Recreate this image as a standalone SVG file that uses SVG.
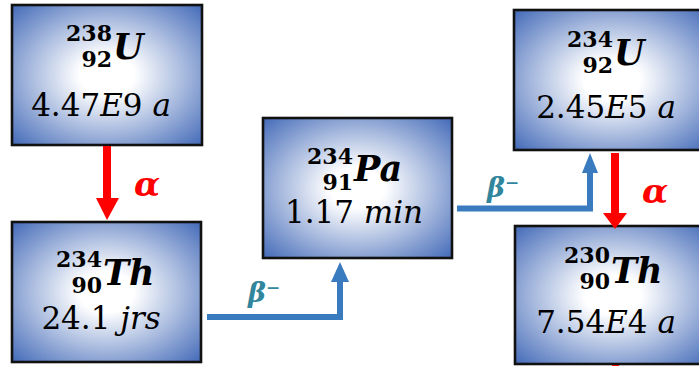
<svg xmlns="http://www.w3.org/2000/svg" width="699" height="366" viewBox="0 0 699 366">
<defs>
<radialGradient id="g" cx="0.5" cy="0.5" r="0.72">
<stop offset="0" stop-color="#ffffff"/>
<stop offset="0.2" stop-color="#ffffff"/>
<stop offset="1" stop-color="#3e66b6"/>
</radialGradient>
</defs>
<style>
.box{fill:url(#g);stroke:#111;stroke-width:2.6}
.t{font-family:"DejaVu Serif","Liberation Serif",serif;fill:#000}
.num{font-size:22px;font-weight:bold}
.sym{font-size:35px;font-weight:bold;font-style:italic}
.val{font-size:31px}
.i{font-style:italic}
.alpha{font-family:"DejaVu Serif","Liberation Serif",serif;font-size:34px;font-weight:bold;font-style:italic;fill:#ff0000}
.beta{font-family:"DejaVu Serif","Liberation Serif",serif;font-size:27px;font-weight:bold;font-style:italic;fill:#31859c}
.red{fill:#ff0000}
.blue{fill:none;stroke:#3a7abf;stroke-width:6}
.bh{fill:#3a7abf}
</style>
<g id="u238">
<rect class="box" x="12" y="5" width="190" height="140"/>
<text class="t num" x="112" y="41" text-anchor="end">238</text>
<text class="t num" x="112" y="67" text-anchor="end">92</text>
<text class="t sym" x="113" y="59">U</text>
<text class="t val" x="101" y="116" text-anchor="middle">4.47<tspan class="i">E</tspan>9 <tspan class="i">a</tspan></text>
</g>
<g id="th234">
<rect class="box" x="12" y="222" width="189" height="140"/>
<text class="t num" x="102" y="267" text-anchor="end">234</text>
<text class="t num" x="102" y="293" text-anchor="end">90</text>
<text class="t sym" x="103" y="285">Th</text>
<text class="t val" x="101" y="329" text-anchor="middle">24.1 <tspan class="i">jrs</tspan></text>
</g>
<g id="pa234">
<rect class="box" x="263" y="118" width="189" height="140"/>
<text class="t num" x="353" y="164" text-anchor="end">234</text>
<text class="t num" x="353" y="190" text-anchor="end">91</text>
<text class="t sym" x="354" y="181">Pa</text>
<text class="t val" x="354" y="223" text-anchor="middle">1.17 <tspan class="i">min</tspan></text>
</g>
<g id="u234">
<rect class="box" x="514" y="10" width="196" height="140"/>
<text class="t num" x="613" y="47" text-anchor="end">234</text>
<text class="t num" x="613" y="73" text-anchor="end">92</text>
<text class="t sym" x="614" y="65">U</text>
<text class="t val" x="606" y="118" text-anchor="middle">2.45<tspan class="i">E</tspan>5 <tspan class="i">a</tspan></text>
</g>
<g id="th230">
<rect class="box" x="515" y="226" width="196" height="138"/>
<text class="t num" x="610" y="263" text-anchor="end">230</text>
<text class="t num" x="610" y="289" text-anchor="end">90</text>
<text class="t sym" x="611" y="283">Th</text>
<text class="t val" x="606" y="333" text-anchor="middle">7.54<tspan class="i">E</tspan>4 <tspan class="i">a</tspan></text>
</g>
<g id="connectors">
<rect class="red" x="103" y="146" width="8" height="53"/>
<polygon class="red" points="96,198 119,198 107,220"/>
<text class="alpha" x="134" y="196">α</text>
<rect class="red" x="611" y="153" width="8" height="61"/>
<polygon class="red" points="603,213 627,213 615,229"/>
<text class="alpha" x="642" y="203">α</text>
<rect class="red" x="612" y="365" width="7" height="2"/>
<polyline class="blue" points="207,317 340,317 340,280"/>
<polygon class="bh" points="331,282 349,282 340,262"/>
<text class="beta" x="248" y="302">β⁻</text>
<polyline class="blue" points="457,208.5 590,208.5 590,171"/>
<polygon class="bh" points="582,173 598,173 590,153"/>
<text class="beta" x="487" y="197">β⁻</text>
</g>
</svg>
